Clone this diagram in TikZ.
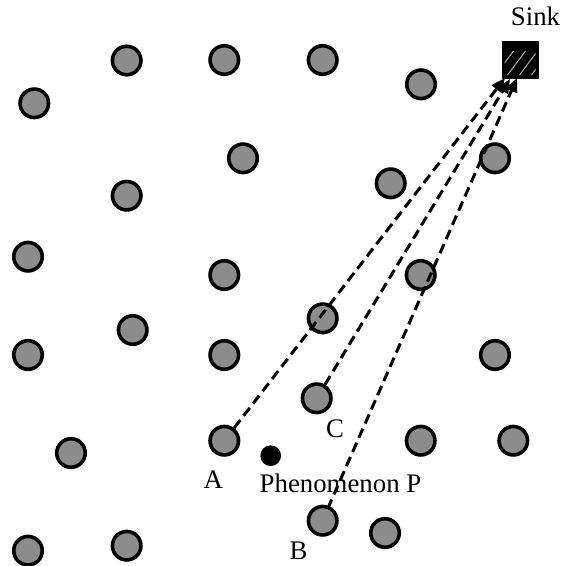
\documentclass[tikz,border=0pt]{standalone}
\usepackage{fontspec}
\setmainfont{Liberation Serif}
\usetikzlibrary{arrows.meta,calc}
\begin{document}
\begin{tikzpicture}[x=1pt,y=-1pt,
  sensor/.style={circle,draw=black,line width=3.6pt,fill=black!45,minimum size=28.5pt,inner sep=0pt},
  lbl/.style={inner sep=0pt,font=\fontsize{26.8}{30}\selectfont},
  route/.style={dash pattern=on 10pt off 5.5pt,line width=3pt,-{Triangle[length=14pt,width=12pt]}}]
\useasboundingbox (0,0) rectangle (563,566);
% sensors
\node[sensor] (s1) at (126.7,60.5) {};
\node[sensor] (s2) at (224.3,60) {};
\node[sensor] (s3) at (322.7,60) {};
\node[sensor] (s4) at (421,84.3) {};
\node[sensor] (s5) at (34.3,103.3) {};
\node[sensor] (s6) at (243,158.3) {};
\node[sensor] (s7) at (390.7,183.3) {};
\node[sensor] (s8) at (495,158.3) {};
\node[sensor] (s9) at (126.7,195.7) {};
\node[sensor] (s10) at (28,256.7) {};
\node[sensor] (s11) at (224.3,275) {};
\node[sensor] (s12) at (420.7,275) {};
\node[sensor] (s13) at (132.7,330) {};
\node[sensor] (s14) at (322.7,318.3) {};
\node[sensor] (s15) at (28,355) {};
\node[sensor] (s16) at (224.3,355) {};
\node[sensor] (s17) at (495,355) {};
\node[sensor] (C) at (316.7,398.3) {};
\node[sensor] (s19) at (71,453) {};
\node[sensor] (A) at (224.3,440.7) {};
\node[sensor] (s21) at (420.7,440.7) {};
\node[sensor] (s22) at (513.3,440.7) {};
\node[sensor] (B) at (322.7,520.7) {};
\node[sensor] (s24) at (385,533) {};
\node[sensor] (s25) at (28,550.7) {};
\node[sensor] (s26) at (126.7,545.7) {};
% phenomenon
\node[circle,fill=black,minimum size=20.7pt,inner sep=0pt] (P) at (270.7,455.7) {};
% sink
\node[draw=black,fill=black,minimum size=36.6pt,inner sep=0pt] (sink) at (520,59.5) {};
\begin{scope}
\clip ($(sink.south west)+(3,-3)$) rectangle ($(sink.north east)+(-3,3)$);
\foreach \o in {-6,6,18,30} {
  \draw[black!35,line width=1pt] ($(sink.south west)+(\o,-3)$) -- ++(18,-24);
}
\end{scope}
\coordinate (tA) at (505,78);
\coordinate (tC) at (510,79);
\coordinate (tB) at (517,78);
% routes
\draw[route] (A) -- (tA);
\draw[route] (C) -- (tC);
\draw[route] ($(B)+(5,-12)$) -- (tB);
% labels
\node[lbl] (lsink) at (535.5,16.5) {Sink};
\node[lbl] (lA) at (213.4,479.5) {A};
\node[lbl] (lB) at (298.5,551) {B};
\node[lbl] (lC) at (335,428.5) {C};
\node[lbl] (lP) at (340.5,483) {Phenomenon P};
\end{tikzpicture}
\end{document}
